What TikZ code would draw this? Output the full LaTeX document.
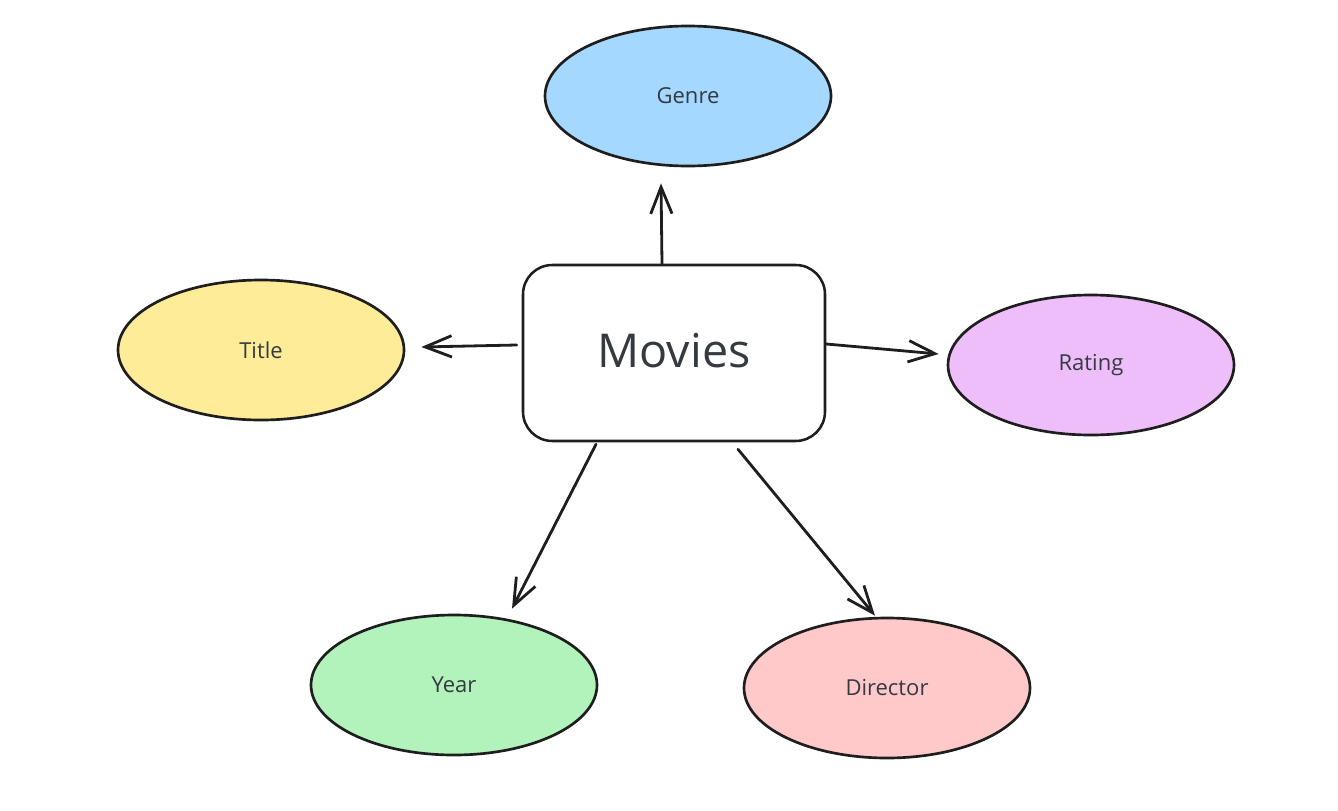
\documentclass[tikz,border=0pt]{standalone}
\usepackage{fontspec}
\setmainfont{Open Sans}
\usetikzlibrary{shapes.geometric,arrows.meta,calc}

\definecolor{inkline}{RGB}{30,30,30}
\definecolor{inktext}{RGB}{52,58,64}
\definecolor{genrefill}{RGB}{165,216,255}
\definecolor{titlefill}{RGB}{255,236,153}
\definecolor{ratingfill}{RGB}{238,190,250}
\definecolor{yearfill}{RGB}{178,242,187}
\definecolor{directorfill}{RGB}{255,201,201}

\tikzset{every picture/.style={line width=0.75pt}}
\tikzset{
  field/.style={ellipse, draw=inkline, line width=2pt, inner sep=0pt,
    minimum width=214.5pt, minimum height=105pt, text=inktext,
    font=\fontsize{16.5}{19}\selectfont},
  entity/.style={rectangle, draw=inkline, line width=1.9pt, rounded corners=22pt,
    fill=white, minimum width=226.5pt, minimum height=132pt, text=inktext,
    font=\fontsize{35}{40}\selectfont},
  link/.style={draw=inkline, line width=2.1pt, line cap=round,
    -{Straight Barb[length=20pt, width=16pt, line width=2.1pt]}}
}

\begin{document}
\begin{tikzpicture}[x=0.75pt,y=0.75pt,yscale=-1,xscale=1]
	%set diagram size
	\path [use as bounding box] (0,0) rectangle (1338,810);
	
	%Entity
	\node [entity] (movies) at (674,353) {\raisebox{4pt}{Movies}};
	
	%Attributes
	\node [field, fill=genrefill] (genre) at (688,96) {Genre};
	\node [field, fill=titlefill] (title) at (261,350) {Title};
	\node [field, fill=ratingfill] (rating) at (1091,365) {Rating};
	\node [field, fill=yearfill] (year) at (454,685) {Year};
	\node [field, fill=directorfill] (director) at (887,688) {Director};
	
	%Links
	\draw [link] ($(movies.north)+(-12,0)$) -- ($(genre.south)+(-27,16)$);
	\draw [link] ($(movies.west)+(-5,-8)$) -- ($(title.east)+(16,-3)$);
	\draw [link] ($(movies.east)+(0,-9)$) -- ($(rating.west)+(-8,-11)$);
	\draw [link] ($(movies.south)+(-78,2)$) -- ($(year.north)+(58,-5)$);
	\draw [link] ($(movies.south)+(64,7)$) -- ($(director.north)+(-12,-1)$);
	
\end{tikzpicture}
\end{document}
